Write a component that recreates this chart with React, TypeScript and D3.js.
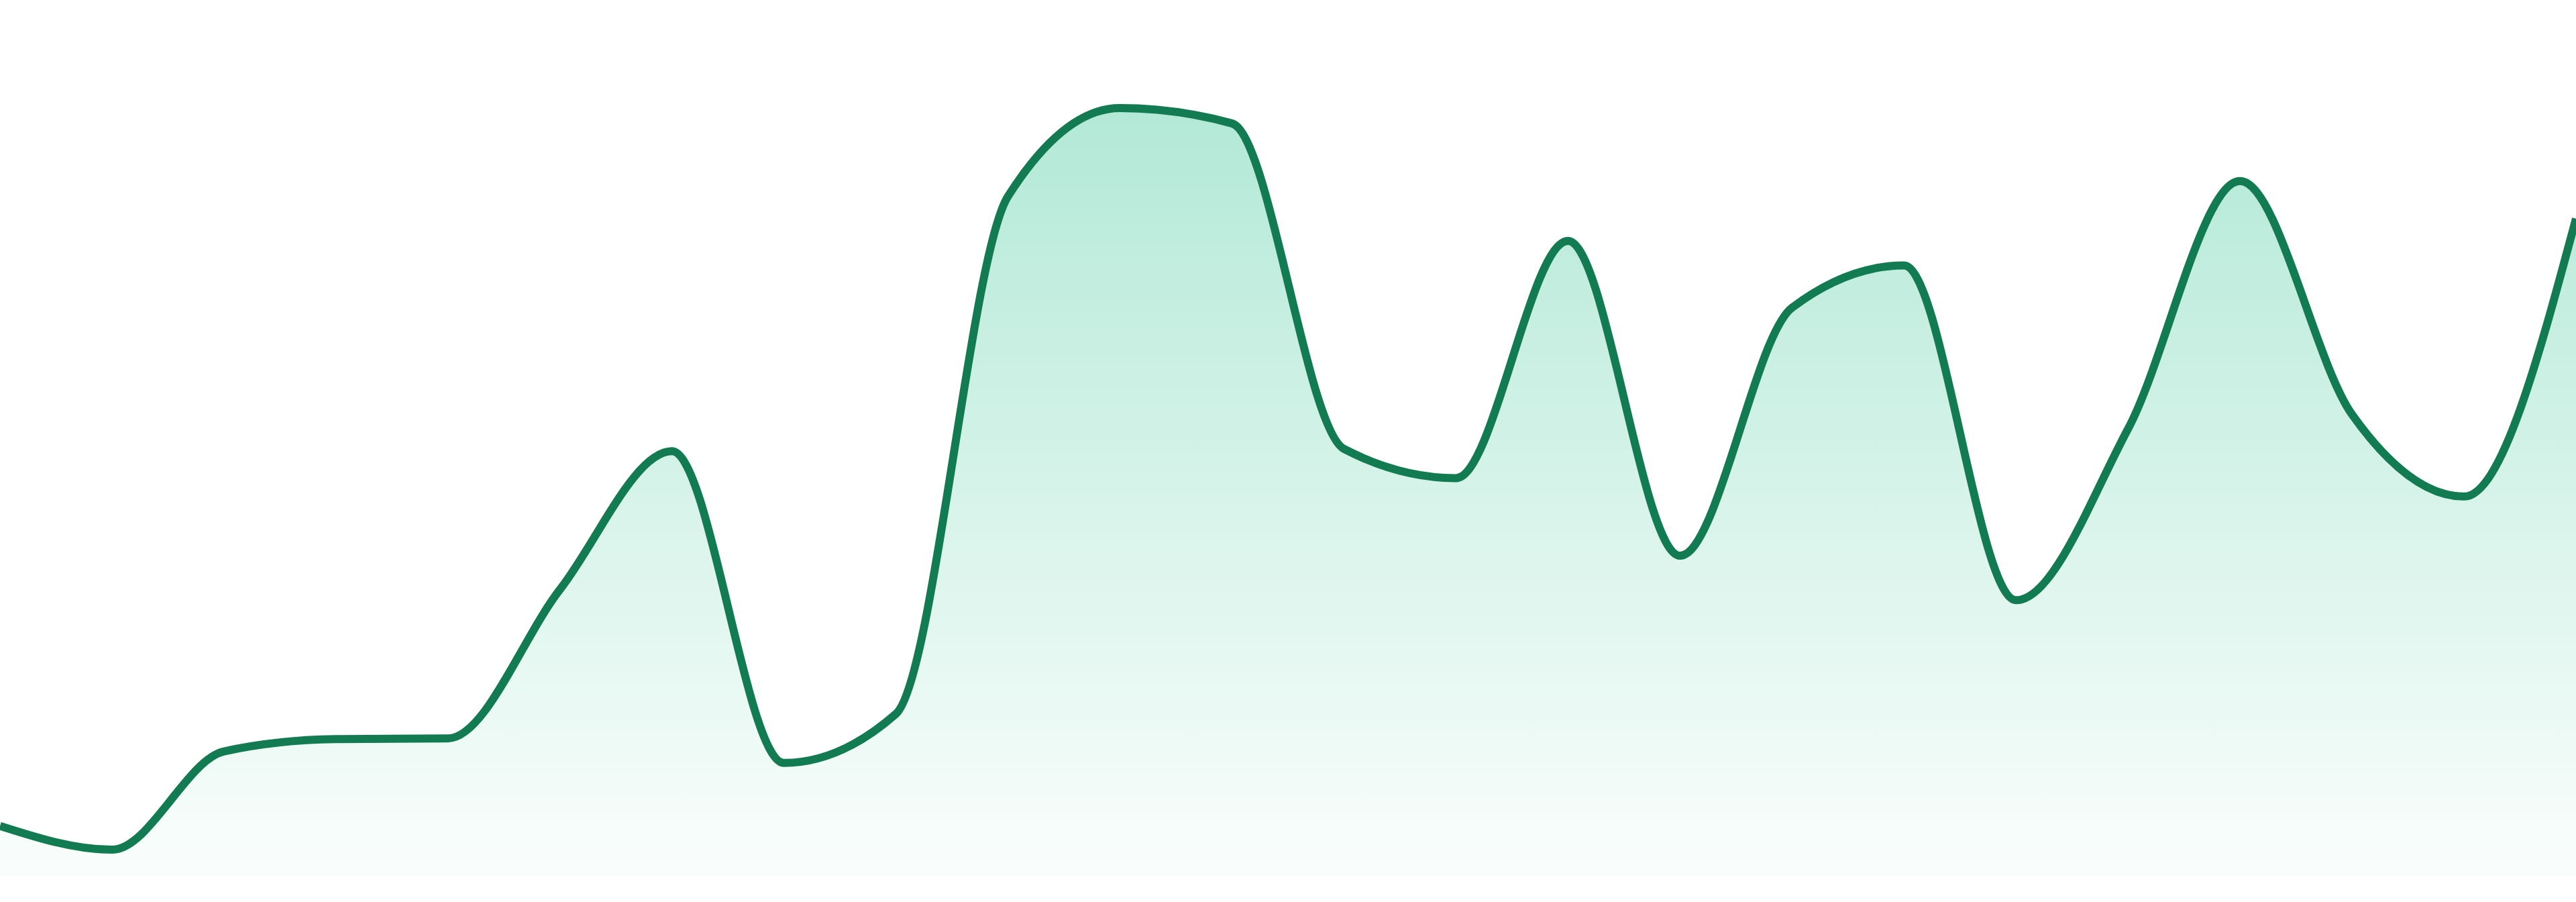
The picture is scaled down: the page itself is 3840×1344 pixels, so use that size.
import React from "react";
import * as d3 from "d3";

// 24 evenly spaced observations spanning the full width
const indices: number[] = d3.range(24);
const values: number[] = [
  6.5, 3.4, 16.2, 17.8, 17.9, 37.3, 55.3, 14.7, 21.1, 88.5, 100, 98.0,
  55.6, 51.8, 82.7, 41.7, 74.0, 79.5, 35.9, 58.2, 90.5, 60.1, 49.4, 85.6,
];

const W = 3840;
const H = 1344;
const BASE_Y = 1305;
const TOP_Y = 161;
const LINE_COLOR = "#127b52";
const FILL_COLOR = "#10b981";

export default function App() {
  const x = d3.scaleLinear().domain([0, indices.length - 1]).range([0, W]);
  const y = d3.scaleLinear().domain([0, 100]).range([BASE_Y, TOP_Y]);
  const data = indices.map((i) => ({ i, v: values[i] }));

  const area = d3
    .area<{ i: number; v: number }>()
    .x((d) => x(d.i))
    .y0(y(0))
    .y1((d) => y(d.v))
    .curve(d3.curveMonotoneX);
  const line = d3
    .line<{ i: number; v: number }>()
    .x((d) => x(d.i))
    .y((d) => y(d.v))
    .curve(d3.curveMonotoneX);

  return (
    <svg
      width={W}
      height={H}
      style={{ position: "fixed", left: 0, top: 0, background: "#ffffff" }}
    >
      <defs>
        <linearGradient
          id="areaFill"
          gradientUnits="userSpaceOnUse"
          x1={0}
          x2={0}
          y1={y(100)}
          y2={y(0)}
        >
          <stop offset="0%" stopColor={FILL_COLOR} stopOpacity={0.32} />
          <stop offset="100%" stopColor={FILL_COLOR} stopOpacity={0.02} />
        </linearGradient>
      </defs>
      <path d={area(data) ?? ""} fill="url(#areaFill)" stroke="none" />
      <path
        d={line(data) ?? ""}
        fill="none"
        stroke={LINE_COLOR}
        strokeWidth={12}
        strokeLinejoin="round"
      />
    </svg>
  );
}
